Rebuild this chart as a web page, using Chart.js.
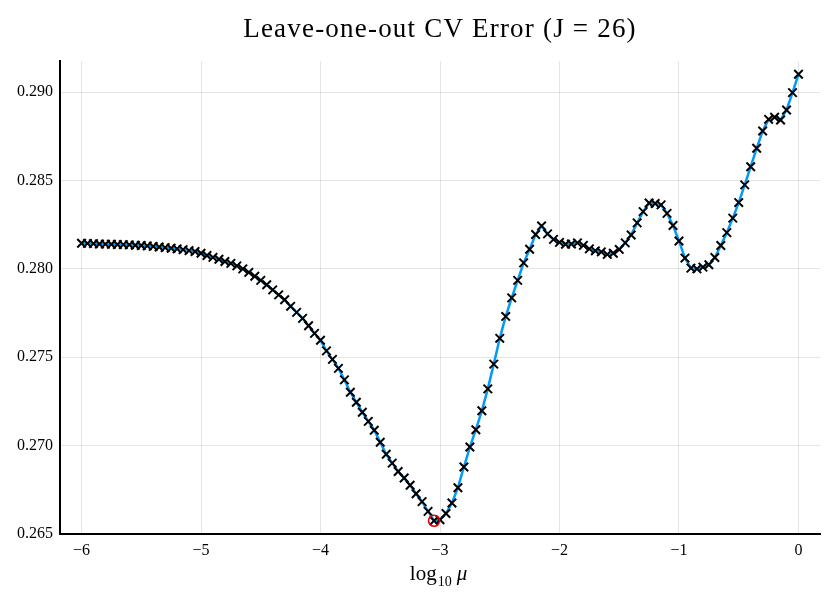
<!DOCTYPE html>
<html>
<head>
<meta charset="utf-8">
<title>Leave-one-out CV Error</title>
<script src="https://cdn.jsdelivr.net/npm/chart.js@4.4.1/dist/chart.umd.min.js"></script>
<style>
  html, body { margin: 0; padding: 0; background: #fff; }
  #chart { display: block; }
</style>
</head>
<body>
<canvas id="chart" width="830" height="603"></canvas>
<script>
/* LOO CV error vs log10(mu) */
const TITLE = "Leave-one-out CV Error (J = 26)";
const X_TICKS = [-6, -5, -4, -3, -2, -1, 0];
const Y_TICKS = [0.265, 0.270, 0.275, 0.280, 0.285, 0.290];

const LOG_MU = [
  -6.00, -5.95, -5.90, -5.85, -5.80, -5.75, -5.70, -5.65, -5.60, -5.55,
  -5.50, -5.45, -5.40, -5.35, -5.30, -5.25, -5.20, -5.15, -5.10, -5.05,
  -5.00, -4.95, -4.90, -4.85, -4.80, -4.75, -4.70, -4.65, -4.60, -4.55,
  -4.50, -4.45, -4.40, -4.35, -4.30, -4.25, -4.20, -4.15, -4.10, -4.05,
  -4.00, -3.95, -3.90, -3.85, -3.80, -3.75, -3.70, -3.65, -3.60, -3.55,
  -3.50, -3.45, -3.40, -3.35, -3.30, -3.25, -3.20, -3.15, -3.10, -3.05,
  -3.00, -2.95, -2.90, -2.85, -2.80, -2.75, -2.70, -2.65, -2.60, -2.55,
  -2.50, -2.45, -2.40, -2.35, -2.30, -2.25, -2.20, -2.15, -2.10, -2.05,
  -2.00, -1.95, -1.90, -1.85, -1.80, -1.75, -1.70, -1.65, -1.60, -1.55,
  -1.50, -1.45, -1.40, -1.35, -1.30, -1.25, -1.20, -1.15, -1.10, -1.05,
  -1.00, -0.95, -0.90, -0.85, -0.80, -0.75, -0.70, -0.65, -0.60, -0.55,
  -0.50, -0.45, -0.40, -0.35, -0.30, -0.25, -0.20, -0.15, -0.10, -0.05,
  0.00
];

const CV_ERR = [
  0.28145, 0.28144, 0.28143, 0.28141, 0.28140, 0.28139, 0.28138, 0.28137, 0.28136, 0.28134,
  0.28132, 0.28130, 0.28127, 0.28124, 0.28120, 0.28117, 0.28113, 0.28109, 0.28103, 0.28098,
  0.28088, 0.28076, 0.28065, 0.28054, 0.28042, 0.28031, 0.28017, 0.28000, 0.27980, 0.27958,
  0.27935, 0.27910, 0.27881, 0.27853, 0.27825, 0.27788, 0.27754, 0.27720, 0.27678, 0.27635,
  0.27596, 0.27536, 0.27488, 0.27437, 0.27372, 0.27302, 0.27245, 0.27189, 0.27137, 0.27087,
  0.27019, 0.26951, 0.26901, 0.26854, 0.26817, 0.26776, 0.26728, 0.26683, 0.26628, 0.26575,
  0.26581, 0.26616, 0.26675, 0.26762, 0.26879, 0.26992, 0.27090, 0.27197, 0.27321, 0.27461,
  0.27607, 0.27731, 0.27836, 0.27935, 0.28034, 0.28111, 0.28194, 0.28243, 0.28198, 0.28167,
  0.28150, 0.28139, 0.28141, 0.28147, 0.28133, 0.28113, 0.28102, 0.28096, 0.28082, 0.28088,
  0.28110, 0.28147, 0.28192, 0.28260, 0.28324, 0.28373, 0.28370, 0.28362, 0.28314, 0.28245,
  0.28158, 0.28061, 0.28004, 0.28000, 0.28010, 0.28023, 0.28064, 0.28132, 0.28205, 0.28287,
  0.28375, 0.28475, 0.28578, 0.28682, 0.28780, 0.28846, 0.28858, 0.28842, 0.28899, 0.28997,
  0.29101
];

(() => {
  "use strict";
  const SERIF = '"Liberation Serif", "DejaVu Serif", serif';
  const pts = LOG_MU.map((x, i) => ({ x, y: CV_ERR[i] }));
  // the minimiser gets a red ring
  let best = 0;
  CV_ERR.forEach((v, i) => { if (v < CV_ERR[best]) best = i; });

  const fmtX = (v) => (v < 0 ? "\u2212" + Math.abs(v) : String(v));

  // title centred over the plot area, and x label log_10 mu with a real subscript
  const labels = {
    id: "labels",
    afterDraw(chart) {
      const { ctx, chartArea } = chart;
      const cx = (chartArea.left + chartArea.right) / 2;
      ctx.save();
      ctx.fillStyle = "#000";
      ctx.textBaseline = "alphabetic";

      ctx.font = "27px " + SERIF;
      ctx.letterSpacing = "1.2px";
      ctx.textAlign = "center";
      ctx.fillText(TITLE, cx, 37);
      ctx.letterSpacing = "0px";
      ctx.textAlign = "left";

      const base = 580;
      const fLog = "21px " + SERIF, fSub = "14px " + SERIF, fMu = "italic 21px " + SERIF;
      ctx.font = fLog; const wLog = ctx.measureText("log").width;
      ctx.font = fSub; const wSub = ctx.measureText("10").width;
      ctx.font = fMu; const wMu = ctx.measureText("\u03bc").width;
      const gap = 5;
      let x = cx - 2 - (wLog + wSub + gap + wMu) / 2;
      ctx.font = fLog; ctx.fillText("log", x, base); x += wLog + 1;
      ctx.font = fSub; ctx.fillText("10", x, base + 6); x += wSub + gap;
      ctx.font = fMu; ctx.fillText("\u03bc", x, base);
      ctx.restore();
    },
  };

  const grid = { color: "rgba(0,0,0,0.1)", lineWidth: 1, drawTicks: false };
  const border = { color: "#000", width: 2 };

  new Chart(document.getElementById("chart"), {
    type: "scatter",
    data: {
      datasets: [
        { data: [pts[best]], pointStyle: "circle", pointRadius: 5.5, borderWidth: 1.6,
          borderColor: "#e8000b", backgroundColor: "rgba(0,0,0,0)", order: 0 },
        { data: pts, pointStyle: "crossRot", pointRadius: 6, borderWidth: 2,
          borderColor: "#000", backgroundColor: "#000", showLine: false, order: 1 },
        { type: "line", data: pts, borderColor: "#009af9", borderWidth: 2.5,
          pointRadius: 0, tension: 0, fill: false, order: 2 },
      ],
    },
    options: {
      responsive: false,
      animation: false,
      events: [],
      layout: { padding: { left: 0, right: 10, top: 61, bottom: 0 } },
      plugins: {
        legend: { display: false },
        tooltip: { enabled: false },
        title: { display: false },
      },
      scales: {
        x: {
          type: "linear", min: -6.18, max: 0.18,
          afterBuildTicks: (s) => { s.ticks = X_TICKS.map((value) => ({ value })); },
          afterFit: (s) => { s.height = 69; },
          grid, border,
          ticks: { color: "#000", padding: 7, maxRotation: 0, autoSkip: false,
            font: { family: SERIF, size: 16 }, callback: fmtX },
        },
        y: {
          type: "linear", min: 0.265, max: 0.29176,
          afterBuildTicks: (s) => { s.ticks = Y_TICKS.map((value) => ({ value })); },
          afterFit: (s) => { s.width = 60; },
          grid, border,
          ticks: { color: "#000", padding: 7, autoSkip: false,
            font: { family: SERIF, size: 16 }, callback: (v) => v.toFixed(3) },
        },
      },
    },
    plugins: [labels],
  });
})();
</script>
</body>
</html>
